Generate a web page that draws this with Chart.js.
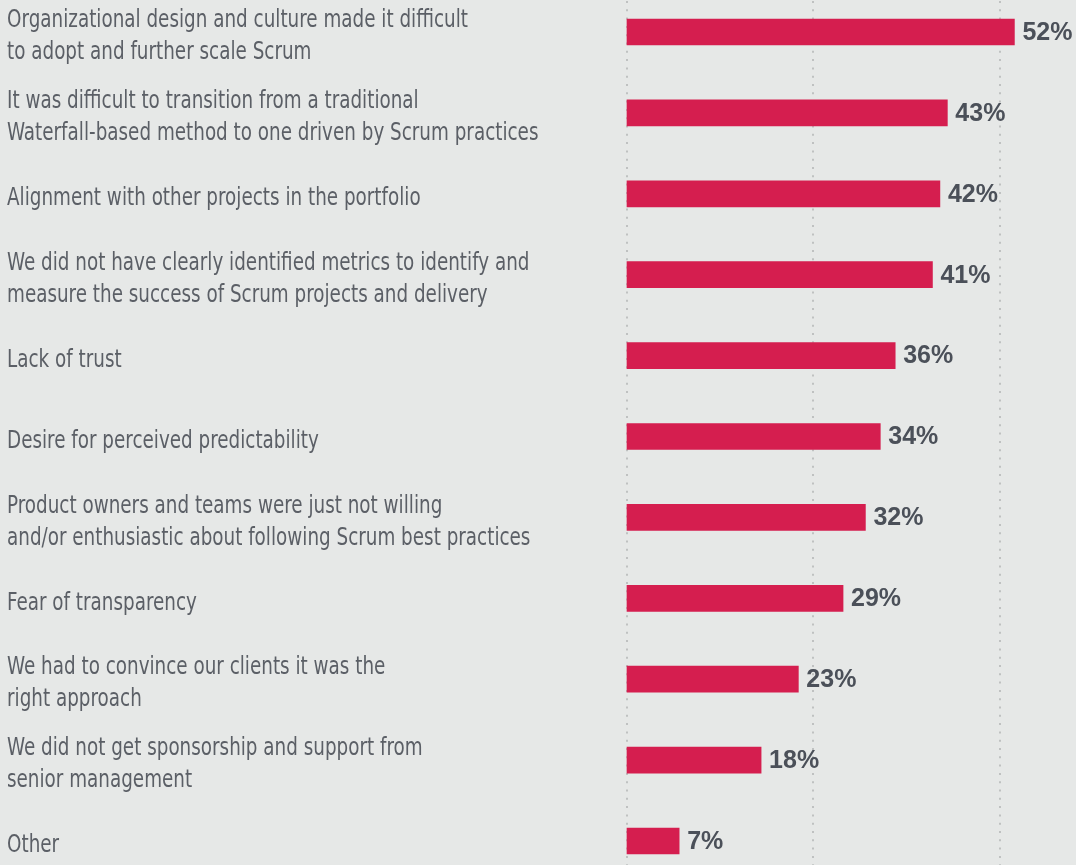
<!DOCTYPE html>
<html>
<head>
<meta charset="utf-8">
<script src="https://cdn.jsdelivr.net/npm/chart.js@4"></script>
<style>
  html, body { margin: 0; padding: 0; background: #e6e8e7; }
  #wrap { width: 1076px; height: 865px; position: relative; }
</style>
</head>
<body>
<div id="wrap"><canvas id="chart"></canvas></div>
<script>
const categories = [
  ['Organizational design and culture made it difficult', 'to adopt and further scale Scrum'],
  ['It was difficult to transition from a traditional', 'Waterfall-based method to one driven by Scrum practices'],
  'Alignment with other projects in the portfolio',
  ['We did not have clearly identified metrics to identify and', 'measure the success of Scrum projects and delivery'],
  'Lack of trust',
  'Desire for perceived predictability',
  ['Product owners and teams were just not willing', 'and/or enthusiastic about following Scrum best practices'],
  'Fear of transparency',
  ['We had to convince our clients it was the', 'right approach'],
  ['We did not get sponsorship and support from', 'senior management'],
  'Other'
];
const percents = [52, 43, 42, 41, 36, 34, 32, 29, 23, 18, 7];
const gridTicks = [0, 25, 50];

const labelFont = "'Liberation Sans Narrow', 'DejaVu Sans Condensed', sans-serif";

// dotted vertical guides running the full canvas height
const dottedGrid = {
  id: 'dottedGrid',
  beforeDatasetsDraw(chart) {
    const {ctx, scales: {x}} = chart;
    ctx.save();
    ctx.strokeStyle = '#bfc1c1';
    ctx.lineWidth = 2;
    ctx.setLineDash([2, 6.3]);
    x.ticks.forEach(t => {
      const px = Math.round(x.getPixelForValue(t.value));
      ctx.beginPath();
      ctx.moveTo(px, 1);
      ctx.lineTo(px, chart.height);
      ctx.stroke();
    });
    ctx.restore();
  }
};

// value labels at the end of each bar
const valueLabels = {
  id: 'valueLabels',
  afterDatasetsDraw(chart) {
    const {ctx} = chart;
    const meta = chart.getDatasetMeta(0);
    ctx.save();
    ctx.font = "bold 25px 'Liberation Sans', Arial, sans-serif";
    ctx.fillStyle = '#4b5059';
    ctx.textAlign = 'left';
    ctx.textBaseline = 'middle';
    meta.data.forEach((bar, i) => {
      ctx.fillText(percents[i] + '%', bar.x + 8, bar.y + 1);
    });
    ctx.restore();
  }
};

// the only condensed face here is wider than the original one, squeeze it a bit
function narrowLabels(scale) {
  const base = Object.getPrototypeOf(scale).drawLabels;
  scale._computeLabelArea = () => undefined; // no clip, the squeeze would cut long lines
  scale.drawLabels = function (area) {
    const ctx = this.ctx;
    ctx.save();
    ctx.translate(this.left, 5);
    ctx.scale(0.85, 1);
    ctx.translate(-this.left, 0);
    base.call(this, area);
    ctx.restore();
  };
}

new Chart(document.getElementById('chart').getContext('2d'), {
  type: 'bar',
  data: {
    labels: categories,
    datasets: [{
      data: percents,
      backgroundColor: '#d51e4f',
      barThickness: 26,
      clip: false
    }]
  },
  options: {
    indexAxis: 'y',
    responsive: true,
    maintainAspectRatio: false,
    animation: false,
    layout: { padding: { left: 7, right: 2, top: 32, bottom: 24 } },
    plugins: { legend: { display: false }, tooltip: { enabled: false } },
    scales: {
      x: {
        display: false,
        min: 0,
        max: 60,
        afterBuildTicks: s => { s.ticks = gridTicks.map(v => ({ value: v })); }
      },
      y: {
        offset: false,
        grid: { display: false },
        border: { display: false },
        afterFit: s => {
          s.width = 620;
          s.paddingTop = 0;
          s.paddingBottom = 0;
          narrowLabels(s);
        },
        ticks: {
          crossAlign: 'far',
          padding: 0,
          color: '#5b5f66',
          font: { family: labelFont, size: 24, lineHeight: 1.33 }
        }
      }
    }
  },
  plugins: [dottedGrid, valueLabels]
});
</script>
</body>
</html>
